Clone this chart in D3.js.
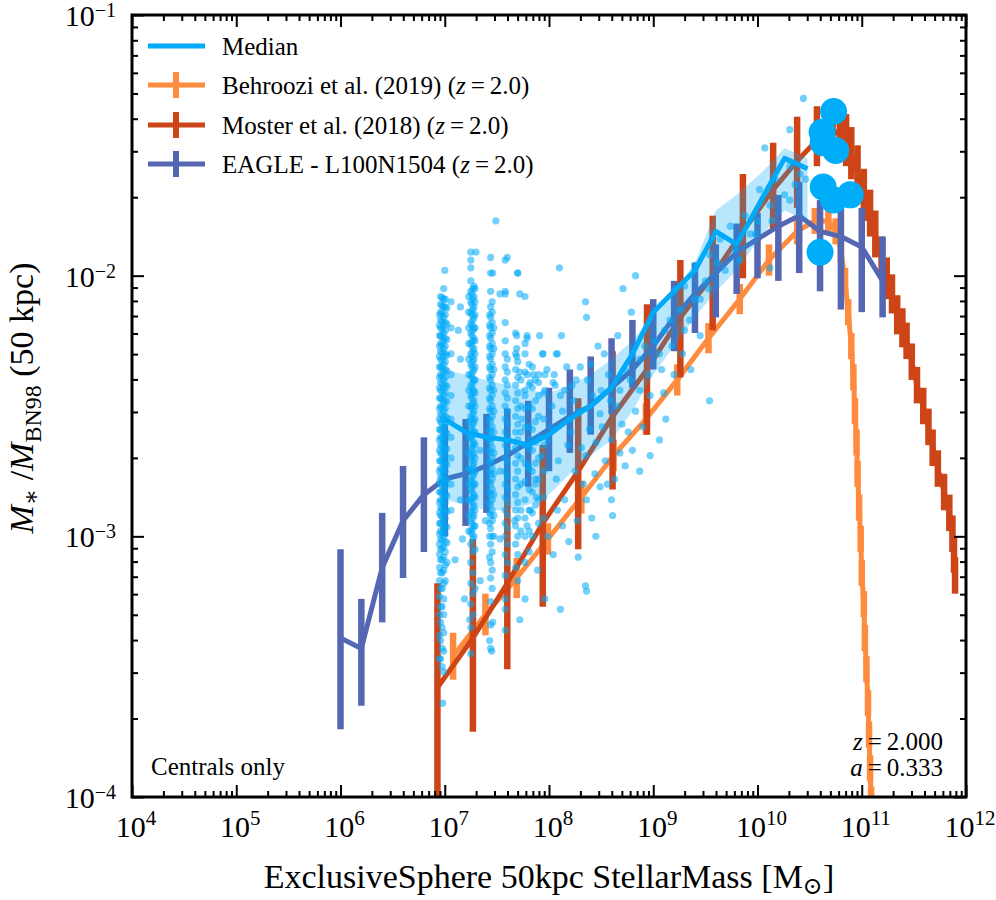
<!DOCTYPE html>
<html>
<head>
<meta charset="utf-8">
<script src="https://cdn.jsdelivr.net/npm/d3@7"></script>
<style>
  body { margin: 0; background: #fff; }
  text { font-family: "Liberation Serif", "DejaVu Serif", serif; fill: #000; }
</style>
</head>
<body>
<div id="chart"></div>
<script>
// all values are log10 (stellar mass [Msun], M*/M_BN98)

// EAGLE - L100N1504 (z=2.0): median with 16-84 range
const eagleLogM = [6.0, 6.2, 6.4, 6.6, 6.8, 7.0, 7.2, 7.4, 7.6, 7.8, 8.0, 8.2, 8.4, 8.6, 8.8, 9.0, 9.2, 9.4, 9.6, 9.8, 10.0, 10.2, 10.4, 10.6, 10.8, 11.0, 11.2];
const eagleLogRatio = [-3.39, -3.43, -3.12, -2.94, -2.84, -2.78, -2.76, -2.73, -2.69, -2.64, -2.59, -2.54, -2.50, -2.43, -2.36, -2.27, -2.16, -2.07, -1.99, -1.91, -1.86, -1.81, -1.77, -1.83, -1.85, -1.89, -2.02];
const eagleUpper = [-3.05, -3.24, -2.91, -2.73, -2.62, -2.57, -2.55, -2.53, -2.51, -2.48, -2.43, -2.36, -2.31, -2.24, -2.17, -2.09, -2.02, -1.95, -1.88, -1.80, -1.76, -1.69, -1.64, -1.71, -1.74, -1.74, -1.85];
const eagleLower = [-3.74, -3.65, -3.33, -3.16, -3.06, -3.00, -2.96, -2.91, -2.86, -2.81, -2.75, -2.68, -2.61, -2.53, -2.43, -2.36, -2.29, -2.22, -2.16, -2.07, -2.01, -2.02, -1.99, -2.06, -2.13, -2.14, -2.16];

// Moster et al. (2018) (z=2.0)
const mosterLogM = [6.93, 7.27, 7.60, 7.94, 8.28, 8.61, 8.94, 9.26, 9.57, 9.86, 10.15, 10.38, 10.57, 10.72, 10.79, 10.85, 10.90, 10.96, 11.02, 11.08, 11.13, 11.19, 11.24, 11.29, 11.34, 11.39, 11.43, 11.48, 11.53, 11.59, 11.64, 11.68, 11.73, 11.79, 11.84, 11.87, 11.885, 11.895];
const mosterLogRatio = [-3.58, -3.39, -3.18, -2.95, -2.75, -2.54, -2.36, -2.16, -2.00, -1.83, -1.67, -1.56, -1.48, -1.44, -1.46, -1.48, -1.53, -1.60, -1.69, -1.76, -1.84, -1.93, -2.01, -2.07, -2.15, -2.20, -2.25, -2.33, -2.42, -2.50, -2.58, -2.66, -2.74, -2.83, -2.91, -2.99, -3.07, -3.15];
const mosterErrLo = [0.46, 0.36, 0.33, 0.32, 0.30, 0.28, 0.25, 0.23, 0.21, 0.18, 0.15, 0.18, 0.10, 0.10, 0.10, 0.10, 0.10, 0.10, 0.10, 0.09, 0.09, 0.08, 0.08, 0.075, 0.075, 0.075, 0.07, 0.07, 0.07, 0.07, 0.07, 0.07, 0.07, 0.07, 0.07, 0.07, 0.07, 0.07];
const mosterErrHi = [0.40, 0.38, 0.32, 0.30, 0.28, 0.25, 0.25, 0.22, 0.23, 0.22, 0.18, 0.17, 0.13, 0.11, 0.10, 0.10, 0.10, 0.10, 0.10, 0.09, 0.09, 0.08, 0.08, 0.075, 0.075, 0.075, 0.07, 0.07, 0.07, 0.07, 0.07, 0.07, 0.07, 0.07, 0.07, 0.07, 0.07, 0.07];

// Behroozi et al. (2019) (z=2.0)
const behrooziLogM = [7.08, 7.39, 7.69, 7.99, 8.31, 8.62, 8.93, 9.23, 9.53, 9.83, 10.11, 10.38, 10.55, 10.68, 10.75, 10.80, 10.84, 10.87, 10.90, 10.92, 10.935, 10.95, 10.96, 10.975, 10.99, 11.00, 11.02, 11.03, 11.045, 11.06, 11.07, 11.08, 11.09];
const behrooziLogRatio = [-3.46, -3.30, -3.16, -3.01, -2.85, -2.69, -2.55, -2.40, -2.24, -2.09, -1.94, -1.83, -1.79, -1.79, -1.83, -1.90, -2.02, -2.14, -2.27, -2.39, -2.52, -2.64, -2.76, -2.89, -3.01, -3.14, -3.26, -3.39, -3.51, -3.64, -3.76, -3.89, -4.01];
const behrooziErr = [0.09, 0.08, 0.077, 0.06, 0.063, 0.06, 0.06, 0.06, 0.058, 0.058, 0.06, 0.05, 0.05, 0.05, 0.05, 0.05, 0.05, 0.05, 0.05, 0.05, 0.05, 0.05, 0.05, 0.05, 0.05, 0.05, 0.05, 0.05, 0.05, 0.05, 0.05, 0.05, 0.05];

// simulation median and 16-84 band
const medianLogM = [7.0, 7.2, 7.4, 7.6, 7.8, 8.0, 8.2, 8.4, 8.6, 8.8, 9.0, 9.2, 9.4, 9.6, 9.8, 10.05, 10.26, 10.48];
const medianLogRatio = [-2.55, -2.60, -2.62, -2.63, -2.65, -2.61, -2.55, -2.50, -2.43, -2.30, -2.14, -2.06, -1.98, -1.83, -1.88, -1.70, -1.55, -1.59];
const bandUpper = [-2.36, -2.38, -2.40, -2.42, -2.44, -2.45, -2.42, -2.38, -2.32, -2.25, -2.15, -2.06, -1.95, -1.75, -1.69, -1.60, -1.51, -1.55];
const bandLower = [-2.86, -2.88, -2.90, -2.90, -2.88, -2.84, -2.76, -2.69, -2.63, -2.52, -2.38, -2.27, -2.16, -2.06, -1.98, -1.84, -1.75, -1.79];

// individual galaxies: columns at discrete masses, then the loose cloud
const scatterColumns = [
  [6.95, [-2.15, -2.19, -2.23, -2.27, -2.31, -2.35, -2.39, -2.43, -2.47, -2.51, -2.55, -2.59, -2.63, -2.67, -2.71, -2.75, -2.79, -2.83, -2.87, -2.91, -2.95, -2.99, -3.03, -3.07, -3.12, -3.17, -3.23, -3.3, -3.38]],
  [6.96, [-2.08, -2.11, -2.14, -2.17, -2.2, -2.23, -2.26, -2.29, -2.32, -2.35, -2.38, -2.41, -2.44, -2.47, -2.5, -2.53, -2.56, -2.59, -2.62, -2.65, -2.68, -2.71, -2.74, -2.77, -2.8, -2.83, -2.86, -2.89, -2.92, -2.95, -2.98, -3.01, -3.05, -3.09, -3.14, -3.2, -3.27, -3.33, -3.4, -3.47]],
  [6.975, [-2.085, -2.115, -2.145, -2.175, -2.205, -2.235, -2.265, -2.295, -2.325, -2.355, -2.385, -2.415, -2.445, -2.475, -2.505, -2.535, -2.565, -2.595, -2.625, -2.655, -2.685, -2.715, -2.745, -2.775, -2.805, -2.835, -2.865, -2.895, -2.925, -2.955, -2.985, -3.015, -3.045, -3.09, -3.14, -3.2, -3.27, -3.35, -3.43, -3.5]],
  [6.99, [-2.05, -2.09, -2.12, -2.16, -2.19, -2.22, -2.25, -2.28, -2.31, -2.34, -2.37, -2.4, -2.43, -2.46, -2.49, -2.52, -2.55, -2.58, -2.61, -2.64, -2.67, -2.7, -2.73, -2.76, -2.79, -2.82, -2.85, -2.88, -2.91, -2.94, -2.97, -3.0, -3.04, -3.08, -3.13, -3.18, -3.24, -3.3, -3.37, -3.44, -3.52]],
  [7.005, [-2.09, -2.12, -2.15, -2.18, -2.21, -2.24, -2.27, -2.3, -2.33, -2.36, -2.39, -2.42, -2.45, -2.48, -2.51, -2.54, -2.57, -2.6, -2.63, -2.66, -2.69, -2.72, -2.75, -2.78, -2.81, -2.84, -2.87, -2.9, -2.93, -2.96, -2.99, -3.02, -3.06, -3.11, -3.17]],
  [7.02, [-2.125, -2.185, -2.245, -2.305, -2.365, -2.425, -2.485, -2.545, -2.605, -2.665, -2.725, -2.785, -2.845, -2.905, -2.965, -3.025, -3.1]],
  [7.06, [-2.1, -2.2, -2.3, -2.38, -2.46, -2.55, -2.62, -2.7, -2.8, -2.9]],
  [7.23, [-2.08, -2.14, -2.2, -2.26, -2.32, -2.38, -2.44, -2.5, -2.56, -2.62, -2.68, -2.74, -2.8, -2.86, -2.92, -2.98]],
  [7.25, [-1.91, -1.94, -1.97, -2.02, -2.06, -2.1, -2.14, -2.18, -2.22, -2.26, -2.3, -2.34, -2.38, -2.42, -2.46, -2.5, -2.54, -2.58, -2.62, -2.66, -2.7, -2.74, -2.78, -2.82, -2.86, -2.9, -2.94, -2.98, -3.03, -3.1, -3.18, -3.26, -3.35, -3.45]],
  [7.26, [-2.07, -2.11, -2.15, -2.19, -2.23, -2.27, -2.31, -2.35, -2.39, -2.43, -2.47, -2.51, -2.55, -2.59, -2.63, -2.67, -2.71, -2.75, -2.79, -2.83, -2.87, -2.91, -2.95, -2.99]],
  [7.27, [-2.05, -2.09, -2.13, -2.17, -2.21, -2.25, -2.29, -2.33, -2.37, -2.41, -2.45, -2.49, -2.53, -2.57, -2.61, -2.65, -2.69, -2.73, -2.77, -2.81, -2.85, -2.89, -2.93, -2.97, -3.01, -3.06, -3.14, -3.22, -3.3]],
  [7.28, [-2.04, -2.08, -2.12, -2.16, -2.2, -2.24, -2.28, -2.32, -2.36, -2.4, -2.44, -2.48, -2.52, -2.56, -2.6, -2.64, -2.68, -2.72, -2.76, -2.8, -2.84, -2.88, -2.92, -2.96, -3.0]],
  [7.29, [-2.05, -2.1, -2.15, -2.2, -2.25, -2.3, -2.35, -2.4, -2.45, -2.5, -2.55, -2.6, -2.65, -2.7, -2.75, -2.8, -2.85, -2.9, -2.96, -3.05, -3.2]],
  [7.43, [-2.15, -2.19, -2.23, -2.27, -2.31, -2.35, -2.39, -2.43, -2.47, -2.51, -2.55, -2.59, -2.63, -2.67, -2.71, -2.75, -2.79, -2.83, -2.87, -2.91, -2.95, -3.0, -3.08]],
  [7.44, [-1.93, -1.99, -2.06, -2.12, -2.16, -2.2, -2.24, -2.28, -2.32, -2.36, -2.4, -2.44, -2.48, -2.52, -2.56, -2.6, -2.64, -2.68, -2.72, -2.76, -2.8, -2.84, -2.88, -2.92, -2.97, -3.03, -3.1, -3.16, -3.25, -3.34, -3.43]],
  [7.455, [-2.1, -2.14, -2.18, -2.22, -2.26, -2.3, -2.34, -2.38, -2.42, -2.46, -2.5, -2.54, -2.58, -2.62, -2.66, -2.7, -2.74, -2.78, -2.82, -2.86, -2.9, -2.94, -3.0, -3.06, -3.13, -3.2]],
  [7.47, [-2.2, -2.28, -2.36, -2.44, -2.52, -2.6, -2.68, -2.76, -2.84, -2.92, -3.0]],
  [7.58, [-1.94, -2.07, -2.18, -2.25, -2.3, -2.35, -2.4, -2.45, -2.5, -2.55, -2.6, -2.65, -2.7, -2.75, -2.8, -2.85, -2.9, -2.95, -3.0, -3.07, -3.15, -3.28]],
  [7.60, [-2.32, -2.37, -2.42, -2.47, -2.52, -2.57, -2.62, -2.67, -2.72, -2.77, -2.82, -2.87, -2.92, -2.97, -3.03, -3.1]],
  [7.68, [-2.22, -2.3, -2.36, -2.42, -2.48, -2.54, -2.6, -2.66, -2.72, -2.78, -2.84, -2.9, -2.96, -3.03, -3.12]],
  [7.70, [-2.33, -2.39, -2.45, -2.51, -2.57, -2.63, -2.69, -2.75, -2.81, -2.87, -2.93, -3.0, -3.07]],
  [7.73, [-2.4, -2.5, -2.6, -2.7, -2.8, -2.9, -2.98]],
  [7.77, [-2.3, -2.37, -2.44, -2.51, -2.58, -2.65, -2.72, -2.79, -2.86, -2.93, -3.0, -3.1]],
  [7.81, [-2.34, -2.42, -2.5, -2.58, -2.66, -2.74, -2.82, -2.9, -2.98, -3.06]],
  [7.84, [-2.35, -2.43, -2.51, -2.59, -2.67, -2.75, -2.83, -2.91, -3.0]],
  [7.87, [-2.4, -2.48, -2.56, -2.64, -2.72, -2.8, -2.88]],
  [7.90, [-2.38, -2.46, -2.54, -2.62, -2.7, -2.78, -2.86, -2.95]],
  [7.95, [-2.45, -2.55, -2.65, -2.75, -2.85, -2.93]]
];
const scatterLoose = [
  [7.00, -1.98], [7.15, -2.12], [7.13, -2.21], [7.15, -2.32], [7.49, -1.79], [7.30, -1.91], [7.70, -1.99], [7.60, -1.93],
  [8.10, -1.97], [8.35, -2.10], [8.71, -2.05], [8.83, -2.00], [8.79, -2.14], [8.36, -2.16], [8.12, -2.23], [7.91, -2.23],
  [7.79, -2.24], [7.94, -2.30], [8.17, -2.35], [8.08, -2.30], [8.30, -2.35], [8.47, -2.27], [8.53, -2.30], [8.66, -2.23],
  [7.67, -2.94], [7.79, -2.96], [7.89, -3.13], [8.04, -3.07], [8.13, -2.96], [8.35, -3.19], [8.49, -2.81], [8.60, -2.86],
  [8.61, -2.92], [8.41, -2.93], [8.36, -2.86], [8.27, -2.94], [7.82, -2.90], [7.88, -2.85], [7.43, -3.40], [7.45, -3.44],
  [7.46, -3.33], [6.95, -3.47], [6.98, -3.64], [8.36, -3.21],
  [7.96, -2.44], [8.03, -2.50], [8.11, -2.46], [8.20, -2.55], [8.28, -2.52], [8.39, -2.59], [8.49, -2.53], [8.60, -2.63],
  [8.70, -2.57], [8.80, -2.67], [7.99, -2.63], [8.09, -2.71], [8.18, -2.65], [8.25, -2.75], [8.35, -2.69], [8.44, -2.76],
  [8.54, -2.71], [8.63, -2.78], [8.73, -2.73], [8.87, -2.75], [8.97, -2.69], [9.06, -2.63], [7.80, -2.73], [7.87, -2.78],
  [7.93, -2.69], [7.82, -2.63], [7.74, -2.55], [7.77, -2.46], [7.85, -2.38], [7.98, -2.36], [8.06, -2.42], [8.22, -2.42],
  [8.37, -2.40], [8.57, -2.38], [8.73, -2.36], [8.87, -2.32], [8.97, -2.46], [9.02, -2.25], [9.11, -2.21], [9.18, -2.27],
  [9.08, -2.36], [9.26, -2.13], [9.35, -2.17], [9.45, -2.09], [9.21, -2.05], [9.30, -2.04], [9.40, -1.96], [9.50, -2.02],
  [9.54, -1.92], [9.64, -1.86], [9.62, -1.95], [9.74, -1.81], [9.78, -1.90], [9.88, -1.77], [9.93, -1.84], [10.02, -1.67],
  [10.00, -1.79], [10.12, -1.73], [10.17, -1.63], [10.26, -1.69], [10.31, -1.58], [10.41, -1.61], [10.44, -1.32], [10.31, -1.44],
  [10.07, -1.51], [10.12, -1.97], [9.54, -2.48], [9.45, -2.23],
  [8.59, -2.48], [8.68, -2.44], [8.78, -2.40], [8.87, -2.44], [8.92, -2.27], [9.06, -2.30], [9.16, -2.17], [9.30, -2.21],
  [9.40, -2.09], [9.53, -2.05], [9.69, -1.98], [9.83, -1.94], [9.98, -1.84], [10.14, -1.79], [10.31, -1.71], [10.36, -1.65],
  [10.46, -1.63], [7.34, -2.67], [7.53, -2.75], [7.39, -2.94], [7.15, -2.86], [7.17, -3.01], [7.10, -3.09], [7.19, -3.24],
  [7.24, -3.32], [7.34, -3.17], [7.53, -3.01], [7.58, -3.24], [7.70, -3.17], [7.77, -3.24], [7.96, -3.24], [8.11, -3.28],
  [7.72, -3.32], [7.58, -3.36], [7.46, -1.99], [7.70, -1.99], [7.72, -2.07], [7.77, -2.08], [7.53, -2.07], [7.58, -2.06],
  [7.69, -2.23], [7.79, -2.23], [7.77, -2.26], [7.69, -2.28], [7.94, -2.30], [8.07, -2.30], [7.69, -2.31], [7.72, -2.37],
  [7.79, -2.38], [7.82, -2.41], [7.90, -2.41], [7.96, -2.38], [8.04, -2.41],
  [8.02, -2.58], [8.07, -2.78], [8.13, -2.52], [8.15, -2.86], [8.21, -2.60], [8.24, -2.48], [8.31, -2.66], [8.33, -2.80],
  [8.42, -2.46], [8.45, -2.64], [8.51, -2.58], [8.56, -2.80], [8.65, -2.50], [8.68, -2.68], [8.76, -2.60], [8.83, -2.52],
  [8.90, -2.58], [8.95, -2.38], [9.10, -2.45], [9.20, -2.38], [9.28, -2.30], [9.36, -2.36], [9.12, -2.55], [8.08, -2.90],
  [8.19, -3.02], [8.28, -3.08], [8.45, -3.00], [7.99, -3.00], [8.05, -2.38], [8.15, -2.44], [8.26, -2.40], [8.40, -2.34],
  [8.50, -2.44]
];

// most massive galaxies, shown individually
const bigLogM = [10.73, 10.62, 10.63, 10.75, 10.63, 10.73, 10.89, 10.60];
const bigLogRatio = [-1.37, -1.45, -1.49, -1.52, -1.66, -1.71, -1.69, -1.91];

const legendLabels = ["Median", "Behroozi et al. (2019)", "Moster et al. (2018)", "EAGLE - L100N1504"];
const xMajorExp = [4, 5, 6, 7, 8, 9, 10, 11, 12];
const yMajorExp = [-4, -3, -2, -1];

const colMedian = "#00aaf8";
const colBehroozi = "#fe8b3e";
const colMoster = "#cd4517";
const colEagle = "#5566b2";

const W = 996, H = 900;
const L = 132, R = 966, T = 15, B = 797;

const x = d3.scaleLog().domain([1e4, 1e12]).range([L, R]);
const y = d3.scaleLog().domain([1e-4, 1e-1]).range([B, T]);
const px = m => x(Math.pow(10, m));
const py = r => y(Math.pow(10, r));

const svg = d3.select("#chart").append("svg")
    .attr("width", W).attr("height", H)
    .attr("viewBox", [0, 0, W, H]);

svg.append("defs").append("clipPath").attr("id", "plotclip")
    .append("rect").attr("x", L).attr("y", T).attr("width", R - L).attr("height", B - T);

const plot = svg.append("g").attr("clip-path", "url(#plotclip)");

// line with vertical error bars
function drawSeries(ms, rs, top, bot, color) {
    const g = plot.append("g");
    g.append("path")
        .datum(ms.map((m, i) => [m, rs[i]]))
        .attr("d", d3.line().x(d => px(d[0])).y(d => py(d[1])))
        .attr("fill", "none")
        .attr("stroke", color)
        .attr("stroke-width", 5)
        .attr("stroke-linejoin", "round");
    g.selectAll("line")
        .data(ms)
        .join("line")
        .attr("x1", d => px(d)).attr("x2", d => px(d))
        .attr("y1", (d, i) => py(top(i))).attr("y2", (d, i) => py(bot(i)))
        .attr("stroke", color)
        .attr("stroke-width", 6.5);
}

drawSeries(behrooziLogM, behrooziLogRatio,
    i => behrooziLogRatio[i] + behrooziErr[i], i => behrooziLogRatio[i] - behrooziErr[i], colBehroozi);
drawSeries(mosterLogM, mosterLogRatio,
    i => mosterLogRatio[i] + mosterErrHi[i], i => mosterLogRatio[i] - mosterErrLo[i], colMoster);
drawSeries(eagleLogM, eagleLogRatio, i => eagleUpper[i], i => eagleLower[i], colEagle);

// scatter of galaxies
const points = scatterColumns.flatMap(([m, rs]) => rs.map(r => [m, r])).concat(scatterLoose);
plot.append("g").selectAll("circle")
    .data(points)
    .join("circle")
    .attr("cx", d => px(d[0]))
    .attr("cy", d => py(d[1]))
    .attr("r", 3.6)
    .attr("fill", colMedian)
    .attr("fill-opacity", 0.55);

// 16-84 band
plot.append("path")
    .datum(medianLogM.map((m, i) => [m, bandLower[i], bandUpper[i]]))
    .attr("d", d3.area().x(d => px(d[0])).y0(d => py(d[1])).y1(d => py(d[2])))
    .attr("fill", colMedian)
    .attr("fill-opacity", 0.28);

// median line
plot.append("path")
    .datum(medianLogM.map((m, i) => [m, medianLogRatio[i]]))
    .attr("d", d3.line().x(d => px(d[0])).y(d => py(d[1])))
    .attr("fill", "none")
    .attr("stroke", colMedian)
    .attr("stroke-width", 5)
    .attr("stroke-linejoin", "round");

// big dots
plot.append("g").selectAll("circle")
    .data(bigLogM)
    .join("circle")
    .attr("cx", d => px(d))
    .attr("cy", (d, i) => py(bigLogRatio[i]))
    .attr("r", 13.5)
    .attr("fill", "#00adf9");

// axes: ticks inside on all four sides
const xMajor = xMajorExp.map(e => Math.pow(10, e));
const yMajor = yMajorExp.map(e => Math.pow(10, e));
const xMinor = d3.range(4, 12).flatMap(e => d3.range(2, 10).map(k => k * Math.pow(10, e)));
const yMinor = d3.range(-4, -1).flatMap(e => d3.range(2, 10).map(k => k * Math.pow(10, e)));

function addAxis(axis, tx, ty) {
    const g = svg.append("g").attr("transform", `translate(${tx},${ty})`).call(axis);
    g.select(".domain").remove();
    g.selectAll(".tick line").attr("stroke", "#000").attr("stroke-width", 2);
    g.selectAll(".tick text").remove();
}
[[xMajor, 12], [xMinor, 6]].forEach(([vals, len]) => {
    addAxis(d3.axisBottom(x).tickValues(vals).tickSize(-len).tickFormat(""), 0, B);
    addAxis(d3.axisTop(x).tickValues(vals).tickSize(-len).tickFormat(""), 0, T);
});
[[yMajor, 12], [yMinor, 6]].forEach(([vals, len]) => {
    addAxis(d3.axisLeft(y).tickValues(vals).tickSize(-len).tickFormat(""), L, 0);
    addAxis(d3.axisRight(y).tickValues(vals).tickSize(-len).tickFormat(""), R, 0);
});

svg.append("rect")
    .attr("x", L).attr("y", T).attr("width", R - L).attr("height", B - T)
    .attr("fill", "none").attr("stroke", "#000").attr("stroke-width", 3);

// tick labels
svg.append("g").selectAll("text")
    .data(xMajorExp)
    .join("text")
    .attr("x", d => x(Math.pow(10, d)) + 4)
    .attr("y", 837)
    .attr("text-anchor", "middle")
    .each(function (d) {
        const t = d3.select(this);
        t.append("tspan").attr("font-size", 30).text("10");
        t.append("tspan").attr("font-size", 21).attr("dy", -12).text(d);
    });

svg.append("g").selectAll("text")
    .data(yMajorExp)
    .join("text")
    .attr("x", 116)
    .attr("y", d => y(Math.pow(10, d)) + 11)
    .attr("text-anchor", "end")
    .each(function (d) {
        const t = d3.select(this);
        t.append("tspan").attr("font-size", 30).text("10");
        t.append("tspan").attr("font-size", 20).attr("dy", -9).text("\u2212" + Math.abs(d));
    });

// axis titles
const xl = svg.append("text")
    .attr("x", 549).attr("y", 888)
    .attr("text-anchor", "middle")
    .attr("font-size", 34);
xl.append("tspan").text("ExclusiveSphere 50kpc StellarMass [M");
xl.append("tspan").attr("font-size", 24).attr("dy", 6).text("\u2299");
xl.append("tspan").attr("dy", -6).text("]");

const yl = svg.append("text")
    .attr("transform", "translate(33,398) rotate(-90)")
    .attr("text-anchor", "middle")
    .attr("font-size", 34);
yl.append("tspan").attr("font-style", "italic").text("M");
yl.append("tspan").attr("font-size", 24).attr("dy", 6).text("\u2217");
yl.append("tspan").attr("dy", -6).text(" /");
yl.append("tspan").attr("font-style", "italic").text("M");
yl.append("tspan").attr("font-size", 24).attr("dy", 8).text("BN98");
yl.append("tspan").attr("dy", -8).text(" (50 kpc)");

// legend
const legendColors = [colMedian, colBehroozi, colMoster, colEagle];
const legendY = [46, 85, 125, 164];
const lg = svg.append("g");
legendLabels.forEach((lab, i) => {
    const yy = legendY[i];
    lg.append("line").attr("x1", 148).attr("x2", 205).attr("y1", yy).attr("y2", yy)
        .attr("stroke", legendColors[i]).attr("stroke-width", 5);
    if (i > 0) {
        lg.append("line").attr("x1", 176).attr("x2", 176).attr("y1", yy - 13).attr("y2", yy + 13)
            .attr("stroke", legendColors[i]).attr("stroke-width", 6);
    }
    const t = lg.append("text").attr("x", 222).attr("y", yy + 8.5).attr("font-size", 25);
    t.append("tspan").text(lab);
    if (i > 0) {
        t.append("tspan").text(" (");
        t.append("tspan").attr("font-style", "italic").text("z");
        t.append("tspan").text("\u2009=\u20092.0)");
    }
});

// annotations
svg.append("text").attr("x", 151).attr("y", 775).attr("font-size", 25).text("Centrals only");
const z1 = svg.append("text").attr("x", 943).attr("y", 750).attr("text-anchor", "end").attr("font-size", 25);
z1.append("tspan").attr("font-style", "italic").text("z");
z1.append("tspan").text("\u2009=\u20092.000");
const a1 = svg.append("text").attr("x", 943).attr("y", 776).attr("text-anchor", "end").attr("font-size", 25);
a1.append("tspan").attr("font-style", "italic").text("a");
a1.append("tspan").text("\u2009=\u20090.333");
</script>
</body>
</html>
